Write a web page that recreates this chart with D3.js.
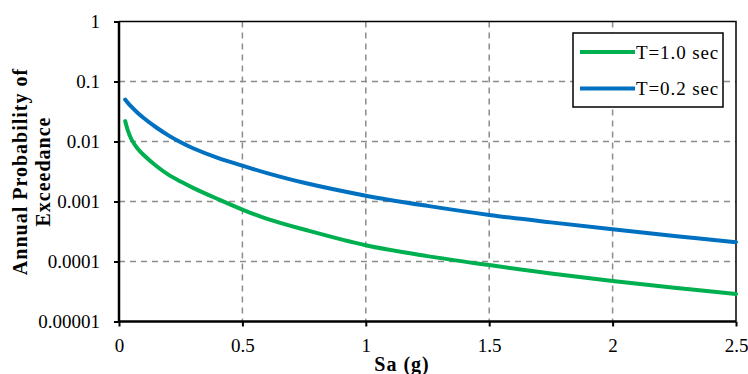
<!DOCTYPE html>
<html>

<head>
  <meta charset="UTF-8">
  <script src="https://d3js.org/d3.v7.js"></script>
  <style>
    body { margin: 0; background: #fff; }
    text { font-family: "Liberation Serif", serif; fill: #000; }
  </style>
</head>

<body>
  <div id="chart"></div>

  <script>
    // data

    const sa = [0.025, 0.035, 0.05, 0.075, 0.1, 0.15, 0.2, 0.25, 0.3, 0.4, 0.5, 0.6, 0.75,
                1.0, 1.25, 1.5, 1.75, 2.0, 2.25, 2.5];

    const t10 = [0.0219, 0.01563, 0.01096, 0.00767, 0.00596, 0.00394, 0.0028, 0.00215, 0.00169,
                 0.0011, 0.000733, 0.000513, 0.000341, 0.000186, 0.000123, 0.0000871,
                 0.0000631, 0.0000473, 0.0000365, 0.0000288];

    const t02 = [0.0501, 0.0444, 0.038, 0.0302, 0.0247, 0.01728, 0.01266, 0.00972, 0.00772,
                 0.00534, 0.00396, 0.00297, 0.00205, 0.00125, 0.000845, 0.000598,
                 0.000449, 0.000344, 0.000267, 0.00021];

    const seriesNames = ['T=1.0 sec', 'T=0.2 sec'];
    const seriesColors = ['#00b050', '#0070c0'];
    const xTicks = [0, 0.5, 1, 1.5, 2, 2.5];
    const yTicks = [1, 0.1, 0.01, 0.001, 0.0001, 0.00001];

    // set up

    const W = 748, H = 374;
    const margin = { top: 21.5, right: 12, bottom: 52.5, left: 119 };
    const width = W - margin.left - margin.right;
    const height = H - margin.top - margin.bottom;

    const svg = d3.select('#chart')
      .append('svg')
        .attr('width', W)
        .attr('height', H);

    const g = svg.append('g')
        .attr('transform', `translate(${margin.left},${margin.top})`);

    // scales

    const x = d3.scaleLinear()
        .domain([0, 2.5])
        .range([0, width]);

    const y = d3.scaleLog()
        .domain([0.00001, 1])
        .range([height, 0]);

    // grid

    g.append('g')
      .selectAll('line')
      .data(xTicks.slice(1, -1))
      .join('line')
        .attr('x1', d => x(d)).attr('x2', d => x(d))
        .attr('y1', 0).attr('y2', height)
        .attr('stroke', '#8c8c8c')
        .attr('stroke-width', 1.5)
        .attr('stroke-dasharray', '6,5');

    g.append('g')
      .selectAll('line')
      .data(yTicks.slice(1, -1))
      .join('line')
        .attr('x1', 0).attr('x2', width)
        .attr('y1', d => y(d)).attr('y2', d => y(d))
        .attr('stroke', '#8c8c8c')
        .attr('stroke-width', 1.5)
        .attr('stroke-dasharray', '6,5');

    // frame (top and right)
    g.append('path')
        .attr('d', `M0,0H${width}V${height}`)
        .attr('fill', 'none')
        .attr('stroke', '#000')
        .attr('stroke-width', 1.5);

    // axes

    const xAxis = d3.axisBottom(x)
        .tickValues(xTicks)
        .tickFormat(d3.format('~g'))
        .tickSize(5)
        .tickPadding(12);

    const yAxis = d3.axisLeft(y)
        .tickValues(yTicks)
        .tickFormat(d => d === 0.00001 ? '0.00001' : String(d))
        .tickSize(5)
        .tickPadding(14);

    const tickFont = a => a.selectAll('text')
        .attr('font-size', 19)
        .attr('font-family', '"Liberation Serif", serif');

    g.append('g')
        .attr('transform', `translate(0,${height})`)
        .call(xAxis)
        .call(a => a.select('.domain').attr('stroke-width', 2.5).attr('d', `M0,0H${width}`))
        .call(a => a.selectAll('.tick line').attr('stroke-width', 2))
        .call(tickFont);

    g.append('g')
        .call(yAxis)
        .call(a => a.select('.domain').attr('stroke-width', 2.5).attr('d', `M0,${height}V0`))
        .call(a => a.selectAll('.tick line').attr('stroke-width', 2))
        .call(tickFont);

    // lines

    const line = d3.line()
        .x(d => x(d[0]))
        .y(d => y(d[1]))
        .curve(d3.curveCatmullRom.alpha(0.5));

    [t10, t02].forEach((vals, i) => {
      g.append('path')
          .datum(sa.map((s, j) => [s, vals[j]]))
          .attr('fill', 'none')
          .attr('stroke', seriesColors[i])
          .attr('stroke-width', 4)
          .attr('stroke-linecap', 'round')
          .attr('d', line);
    });

    // titles

    svg.append('text')
        .attr('x', 402)
        .attr('y', 371)
        .attr('text-anchor', 'middle')
        .attr('font-size', 20)
        .attr('font-weight', 'bold')
        .attr('letter-spacing', 1)
        .text('Sa (g)');

    const yt = svg.append('text')
        .attr('transform', `translate(0,${margin.top + height / 2}) rotate(-90)`)
        .attr('text-anchor', 'middle')
        .attr('font-size', 20)
        .attr('font-weight', 'bold')
        .attr('letter-spacing', 1);
    yt.append('tspan').attr('x', 0).attr('y', 27).text('Annual Probability of');
    yt.append('tspan').attr('x', 0).attr('y', 50).text('Exceedance');

    // legend

    const legend = svg.append('g')
        .attr('transform', 'translate(573,33)');

    legend.append('rect')
        .attr('width', 150)
        .attr('height', 74)
        .attr('fill', '#fff')
        .attr('stroke', '#000')
        .attr('stroke-width', 1.5);

    seriesNames.forEach((name, i) => {
      const ly = 19 + i * 36.5;
      legend.append('line')
          .attr('x1', 7).attr('x2', 62)
          .attr('y1', ly).attr('y2', ly)
          .attr('stroke', seriesColors[i])
          .attr('stroke-width', 4);
      legend.append('text')
          .attr('x', 63)
          .attr('y', ly)
          .attr('dy', '0.35em')
          .attr('font-size', 19)
          .attr('letter-spacing', 0.9)
          .text(name);
    });
  </script>
</body>

</html>
